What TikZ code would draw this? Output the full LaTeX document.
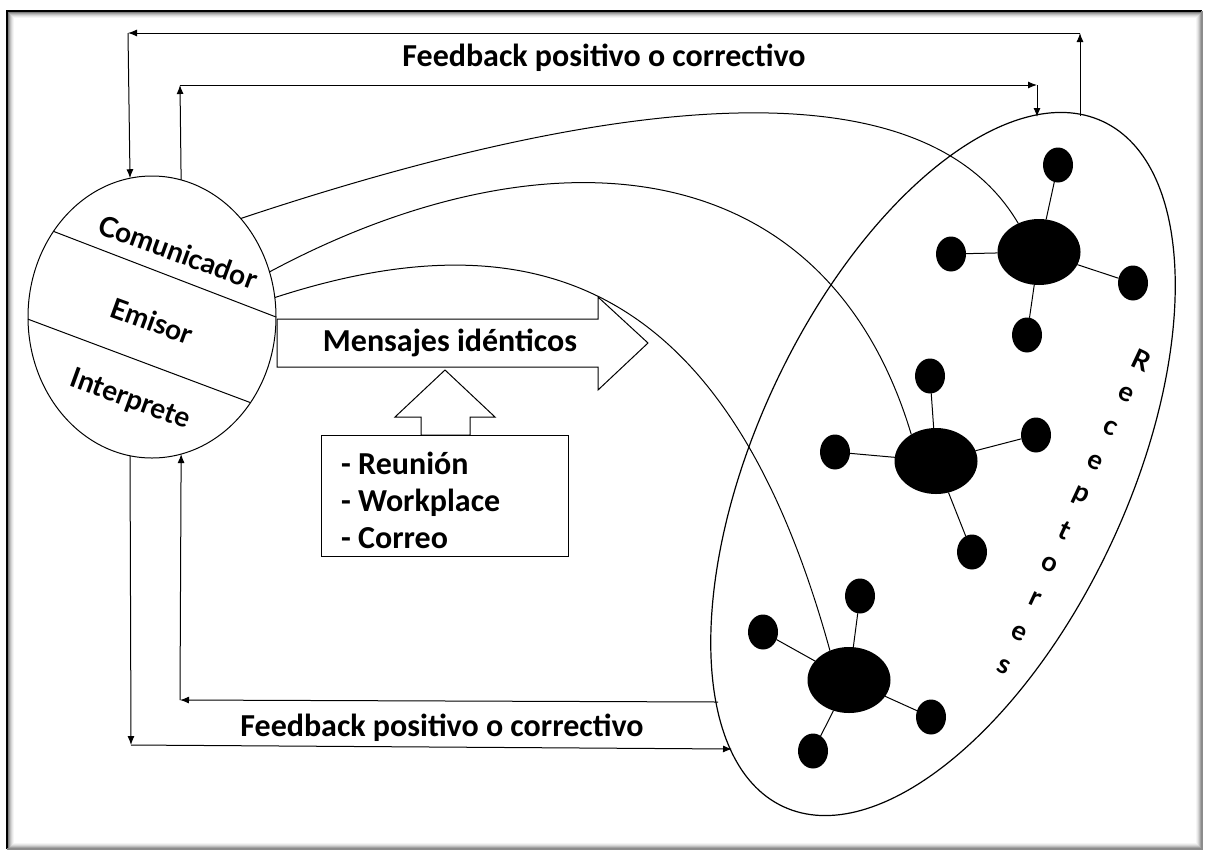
\documentclass[tikz,border=0pt]{standalone}
\usepackage{fontspec}
\setmainfont{Carlito}
\newfontfamily\labelfont{Lato}
\usetikzlibrary{arrows.meta,shapes.geometric}
\begin{document}
\begin{tikzpicture}[x=1pt,y=-1pt,
  line/.style={line width=1pt},
  arr/.style={line width=1pt,-{Latex[length=9pt,width=7pt]}},
  blob/.style={ellipse,fill=black,inner sep=0pt,outer sep=0pt},
  hub/.style={blob,minimum width=83pt,minimum height=66pt},
  leaf/.style={blob,minimum width=30pt,minimum height=35pt},
  role/.style={font=\labelfont\bfseries\fontsize{28}{30}\selectfont,rotate=-20,inner sep=0pt},
  letter/.style={font=\labelfont\bfseries\fontsize{27}{28}\selectfont,rotate=-25,inner sep=0pt},
  caption/.style={font=\bfseries\fontsize{32}{37}\selectfont,inner sep=0pt}]

\useasboundingbox (0,0) rectangle (1206,852);
\fill[white] (0,0) rectangle (1206,852);

% framed page with a soft inner shadow
\foreach \d/\o in {1/0.5,2/0.36,3/0.25,4/0.16,5/0.09,6/0.04}
  \draw[black,opacity=\o,line width=1pt] (7+\d,11+\d) rectangle (1202-\d,849-\d);
\draw[black,line width=1.6pt] (7,849) -- (7,11) -- (1202,11);
\draw[black!45,line width=1.2pt] (1202,11) -- (1202,849) -- (7,849);

% sender
\node[ellipse,draw,line width=1pt,minimum width=248pt,minimum height=282pt,
      inner sep=0pt,outer sep=0pt] (L) at (152,317) {};
\draw[line] (L.139.2) -- (L.0);
\draw[line] (L.181) -- (L.-41.6);
\node[role] (com) at (178,252) {Comunicador};
\node[role] (emi) at (152,321) {Emisor};
\node[role] (int) at (130,400) {Interprete};

% receivers
\node[ellipse,draw,line width=1.2pt,rotate=65,minimum width=756pt,minimum height=372pt,
      inner sep=0pt,outer sep=0pt] (R) at (943,464) {};
\coordinate (rt1) at (1080,116);
\coordinate (rt2) at (1037,117);
\coordinate (rb1) at (718,702);
\coordinate (rb2) at (732,749);

% receiver groups
\node[hub] (g1) at (1039,252) {};
\node[leaf] (g1a) at (1058,165) {};
\node[leaf] (g1b) at (951,254) {};
\node[leaf] (g1c) at (1133,283) {};
\node[leaf] (g1d) at (1027,335) {};
\node[hub] (g2) at (936,461) {};
\node[leaf] (g2a) at (930,376) {};
\node[leaf] (g2b) at (835,452) {};
\node[leaf] (g2c) at (1036,435) {};
\node[leaf] (g2d) at (972,552) {};
\node[hub] (g3) at (849,680) {};
\node[leaf] (g3a) at (860,596) {};
\node[leaf] (g3b) at (763,632) {};
\node[leaf] (g3c) at (931,717) {};
\node[leaf] (g3d) at (813,751) {};
\foreach \g in {g1,g2,g3}
  \foreach \s in {a,b,c,d}
    \draw[line] (\g) -- (\g\s);

% message paths
\draw[line] (L.48) .. controls (575,107) and (916,49) .. (g1.126);
\draw[line] (L.21.5) .. controls (536,129) and (823,140) .. (g2.133);
\draw[line] (L.9) .. controls (562,204) and (736,310) .. (g3.123);

% feedback loops, top
\draw[arr] (rt1) -- (1080,33) coordinate (c1);
\draw[arr] (c1) -- (128,33) coordinate (c2);
\draw[arr] (c2) -- (L.99);
\draw[arr] (L.78) -- (180,85) coordinate (c3);
\draw[arr] (c3) -- (1037,85) coordinate (c4);
\draw[arr] (c4) -- (rt2);
\node[caption] (fbtop) at (604,58) {Feedback positivo o correctivo};

% feedback loops, bottom
\draw[arr] (rb1) -- (180,700) coordinate (c5);
\draw[arr] (c5) -- (L.-78);
\draw[arr] (L.-99) -- (131,745) coordinate (c6);
\draw[arr] (c6) -- (rb2);
\node[caption] (fbbot) at (442,728) {Feedback positivo o correctivo};

% identical messages
\draw[line] (277,319) -- (598,319) -- (598,297) -- (648,343) -- (598,390)
  -- (598,367) -- (277,367) -- cycle;
\node[caption] (msg) at (450,343) {Mensajes idénticos};
\draw[line] (445,370) -- (495,417) -- (470,417) -- (470,435) -- (421,435)
  -- (421,417) -- (395,417) -- cycle;
\node[draw,line width=1pt,minimum width=247pt,minimum height=121pt,inner sep=0pt]
  (box) at (444.5,495.5) {};
\node[caption,align=left,anchor=west] (list) at (341,500)
  {- Reunión\\- Workplace\\- Correo};

% receivers label
\foreach \ch [count=\i from 0] in {R,e,c,e,p,t,o,r,e,s}
  \node[letter] (rl\i) at ({1141-15.2*\i},{360+34.11*\i}) {\ch};
\end{tikzpicture}
\end{document}
